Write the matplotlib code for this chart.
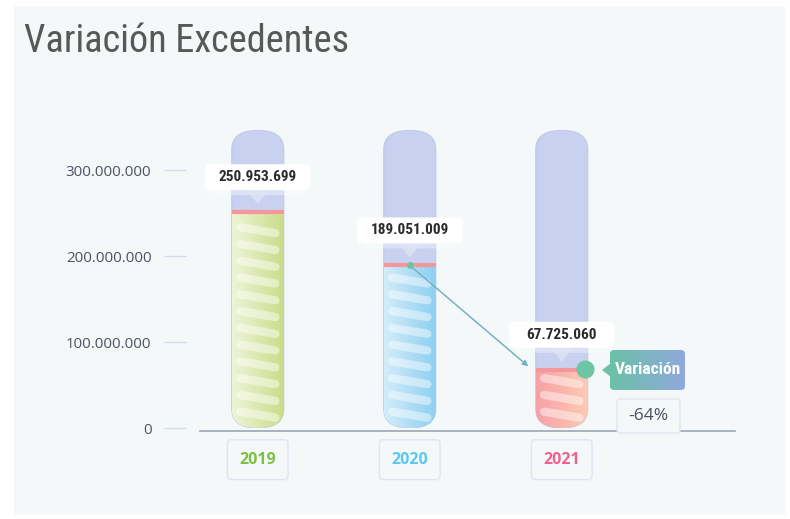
import numpy as np
import matplotlib
matplotlib.use("Agg")
import matplotlib.pyplot as plt
from matplotlib.patches import FancyBboxPatch, Rectangle, Polygon
from matplotlib.transforms import IdentityTransform
from matplotlib.colors import to_rgb
from matplotlib.ticker import FuncFormatter

# ---------------- data ----------------
years = ["2019", "2020", "2021"]
values = [250953699, 189051009, 67725060]
year_colors = ["#7cc142", "#5cc8f2", "#f0628e"]
fill_left = ["#eef4d6", "#d2edf9", "#f7a1a6"]
fill_right = ["#cadd8a", "#8ecff2", "#fdcab3"]
y_ticks = [0, 100_000_000, 200_000_000, 300_000_000]
tube_max = 346_000_000
variation_label = "Variación"
variation_pct = "-64%"

W, H = 790, 519
fig = plt.figure(figsize=(W / 100, H / 100), dpi=100)
fig.patch.set_facecolor("white")
BG = "#f4f8f9"
fig.patches.append(Rectangle((14 / W, 4 / H), 771 / W, 509 / H, transform=fig.transFigure,
                             facecolor=BG, edgecolor="none", zorder=-5))

narrow = ["Roboto Condensed", "DejaVu Sans"]

fig.text(24 / W, 1 - 41 / H, "Variación Excedentes", family=narrow, fontstretch="condensed",
         fontsize=27.5, color="#585858", va="center", ha="left")

ax = fig.add_axes([200 / W, (H - 428) / H, 535 / W, 301 / H])
ax.set_facecolor("none")
x = np.arange(len(years))
ax.set_xlim(-0.38, 3.14)
ax.set_ylim(0, 350_000_000)

for s in ["top", "right", "left"]:
    ax.spines[s].set_visible(False)
ax.spines["bottom"].set_color("#9ea6b5")
ax.spines["bottom"].set_linewidth(1.2)
ax.spines["bottom"].set_position(("outward", 2))
ax.spines["left"].set_position(("outward", 10))

ax.set_yticks(y_ticks)
ax.yaxis.set_major_formatter(FuncFormatter(lambda v, p: f"{int(v):,}".replace(",", ".")))
ax.tick_params(axis="y", length=16, width=1, color="#d5dbef", pad=9,
               labelsize=10.8, labelcolor="#4c5160")
for lbl in ax.get_yticklabels():
    lbl.set_family("Open Sans")

ax.set_xticks(x)
ax.set_xticklabels(years)
ax.tick_params(axis="x", length=0, pad=15)
for lbl, c in zip(ax.get_xticklabels(), year_colors):
    lbl.set_color(c)
    lbl.set_fontweight("bold")
    lbl.set_fontsize(11.5)
    lbl.set_family("Open Sans")
    lbl.set_bbox(dict(boxstyle="round,pad=0.75,rounding_size=0.25", fc=BG, ec="#dfe5f1", lw=1))

xpp = (3.14 + 0.38) / 535.0
ypp = 350_000_000 / 301.0
aspect = ypp / xpp
w = 0.342

for i, (xi, v) in enumerate(zip(x, values)):
    tube = FancyBboxPatch((xi - w / 2, 0), w, tube_max,
                          boxstyle=f"round,pad=0,rounding_size={w / 2}",
                          mutation_aspect=aspect * 0.72,
                          fc="#c9d1f0", ec="#c0c9ec", lw=0.8, zorder=2)
    ax.add_patch(tube)
    n = 64
    cl, cr = np.array(to_rgb(fill_left[i])), np.array(to_rgb(fill_right[i]))
    t = np.linspace(0, 1, n)[None, :, None]
    grad = cl + (cr - cl) * t
    im = ax.imshow(grad, extent=[xi - w / 2, xi + w / 2, 0, v], aspect="auto",
                   origin="lower", zorder=3, interpolation="bilinear")
    im.set_clip_path(tube)
    step = 19.5e6
    drop = 7e6
    ys = np.arange(12e6, v - 8e6, step)
    for yb in ys:
        ln, = ax.plot([xi - w / 2 + 0.055, xi + w / 2 - 0.055], [yb + drop, yb],
                      color="white", alpha=0.45, lw=6, solid_capstyle="round", zorder=4)
        ln.set_clip_path(tube)
    ax.hlines(v, xi - w / 2, xi + w / 2, color="#f4979a", lw=3, zorder=5)

ax.set_xlim(-0.38, 3.14)
ax.set_ylim(0, 350_000_000)

def disp(xd, yd):
    return ax.transData.transform((xd, yd))

# value labels
for xi, v in zip(x, values):
    px, py = disp(xi, v)
    bx, by = px - 53, py + 22
    shadow = FancyBboxPatch((bx + 6, by - 5), 94, 10, boxstyle="round,pad=0,rounding_size=4",
                            fc="white", ec="none", alpha=0.35, transform=IdentityTransform(), zorder=6)
    fig.patches.append(shadow)
    tri = Polygon([[px - 12, by + 1], [px + 12, by + 1], [px, py + 8]], closed=True,
                  fc="#dfe4f5", ec="none", alpha=0.8, transform=IdentityTransform(), zorder=6)
    fig.patches.append(tri)
    box = FancyBboxPatch((bx, by), 106, 26, boxstyle="round,pad=0,rounding_size=5",
                         fc="white", ec="none", transform=IdentityTransform(), zorder=7)
    fig.patches.append(box)
    fig.text(px / W, (by + 13) / H, f"{v:,}".replace(",", "."), family=narrow,
             fontstretch="condensed", fontweight="bold", fontsize=11, color="#2b2b2b",
             ha="center", va="center", zorder=8)

# variation arrow
ax.annotate("", xy=(1.78, values[2] + 4e6), xytext=(1, values[1]),
            arrowprops=dict(arrowstyle="-|>", color="#74b2c4", lw=1.1, mutation_scale=8,
                            shrinkA=0, shrinkB=0), zorder=9)
ax.plot([1], [values[1]], "o", color="#6cc3a3", ms=4, zorder=9)
ax.plot([2.155], [values[2] + 1e6], "o", color="#6ec5a5", ms=12, zorder=9, clip_on=False)

# Variación badge with gradient
bx0, bx1 = 610, 685
by0, by1 = H - 390, H - 350
gax = fig.add_axes([(bx0 - 12) / W, by0 / H, (bx1 - bx0 + 12) / W, (by1 - by0) / H], zorder=10)
gax.set_axis_off()
gax.patch.set_visible(False)
c1, c2 = np.array(to_rgb("#6cc0a6")), np.array(to_rgb("#8fa9dc"))
tt = np.linspace(0, 1, 64)[None, :, None]
gim = gax.imshow(c1 + (c2 - c1) * tt, extent=[bx0, bx1, by0, by1], aspect="auto")
gpatch = FancyBboxPatch((bx0, by0), bx1 - bx0, by1 - by0, boxstyle="round,pad=0,rounding_size=4",
                        fc="none", ec="none", transform=gax.transData)
gax.add_patch(gpatch)
gim.set_clip_path(gpatch)
gax.add_patch(Polygon([[bx0 + 1, (by0 + by1) / 2 + 7], [bx0 + 1, (by0 + by1) / 2 - 7],
                       [bx0 - 8, (by0 + by1) / 2]], closed=True, fc="#6cc0a6", ec="none"))
gax.set_xlim(bx0 - 12, bx1)
gax.set_ylim(by0, by1)
gax.text((bx0 + bx1) / 2, (by0 + by1) / 2, variation_label, family=narrow,
         fontstretch="condensed", fontweight="bold", fontsize=12.5, color="white",
         ha="center", va="center", zorder=10)

# pct box
pct = FancyBboxPatch((617, H - 433), 63, 34, boxstyle="round,pad=0,rounding_size=3",
                     fc=BG, ec="#e0e5f0", lw=1, transform=IdentityTransform(), zorder=6)
fig.patches.append(pct)
fig.text(648.5 / W, (H - 416) / H, variation_pct, family="Open Sans", fontsize=12.5,
         color="#4c5160", ha="center", va="center", zorder=7)

fig.savefig("out.png", dpi=100, facecolor="white")
